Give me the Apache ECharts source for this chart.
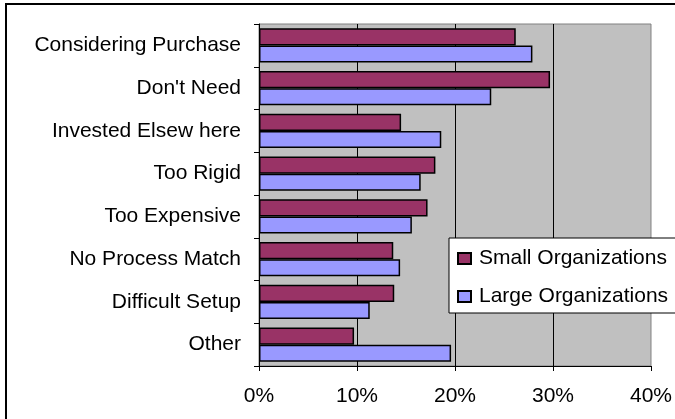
<!DOCTYPE html>
<html>
<head>
<meta charset="utf-8">
<script src="https://cdn.jsdelivr.net/npm/echarts@6/dist/echarts.min.js"></script>
<style>
  html, body { margin: 0; padding: 0; background: #fff; }
  #chart { width: 675px; height: 419px; }
</style>
</head>
<body>
<div id="chart"></div>
<script>
// Reasons given for not adopting, by organization size (percent of respondents)
const categories = [
  'Considering Purchase', "Don't Need", 'Invested Elsew here', 'Too Rigid',
  'Too Expensive', 'No Process Match', 'Difficult Setup', 'Other'
];
const smallOrgs = [26.2, 29.7, 14.5, 18.0, 17.2, 13.7, 13.8, 9.7];
const largeOrgs = [27.9, 23.7, 18.6, 16.5, 15.6, 14.4, 11.3, 19.6];
const seriesNames = ['Small Organizations', 'Large Organizations'];
const xTicks = [0, 10, 20, 30, 40];

const FONT = 'Liberation Sans, Arial, sans-serif';
const chart = echarts.init(document.getElementById('chart'), null, { renderer: 'canvas' });

chart.setOption({
  animation: false,
  backgroundColor: '#ffffff',
  textStyle: { fontFamily: FONT },
  graphic: [{
    type: 'rect',
    shape: { x: 6, y: 4, width: 720, height: 500 },
    style: { fill: 'none', stroke: '#000', lineWidth: 2 },
    z: 100
  }],
  grid: {
    left: 259, right: 21, top: 24, bottom: 53,
    show: true, backgroundColor: '#C0C0C0', borderColor: '#808080', borderWidth: 1
  },
  legend: {
    orient: 'vertical',
    left: 449, top: 238,
    data: seriesNames,
    icon: 'rect',
    itemWidth: 13, itemHeight: 11,
    itemGap: 17,
    padding: [10, 10, 6, 8],
    backgroundColor: '#ffffff',
    borderColor: '#000', borderWidth: 1,
    textStyle: { fontSize: 21, color: '#000', fontFamily: FONT, padding: [0, 0, 0, 3] },
    z: 20
  },
  xAxis: {
    type: 'value',
    min: xTicks[0], max: xTicks[xTicks.length - 1], interval: 10,
    axisLine: { show: true, lineStyle: { color: '#000', width: 1 } },
    axisTick: { show: true, length: 5, lineStyle: { color: '#000' } },
    axisLabel: { fontSize: 21, color: '#000', margin: 20, formatter: '{value}%', fontFamily: FONT },
    splitLine: { show: true, showMaxLine: false, showMinLine: false, lineStyle: { color: '#000', width: 1 } }
  },
  yAxis: {
    type: 'category',
    data: categories,
    inverse: true,
    axisLine: { show: true, lineStyle: { color: '#000', width: 1 } },
    axisTick: { show: true, length: 5, inside: false, lineStyle: { color: '#000' } },
    axisLabel: { fontSize: 21, color: '#000', margin: 18, fontFamily: FONT },
    splitLine: { show: false }
  },
  series: [
    {
      name: seriesNames[0], type: 'bar', data: smallOrgs,
      barGap: '0%', barCategoryGap: '20%',
      itemStyle: { color: '#993366', borderColor: '#000', borderWidth: 1.5 }
    },
    {
      name: seriesNames[1], type: 'bar', data: largeOrgs,
      barGap: '0%', barCategoryGap: '20%',
      itemStyle: { color: '#9999FF', borderColor: '#000', borderWidth: 1.5 }
    }
  ]
});
</script>
</body>
</html>
